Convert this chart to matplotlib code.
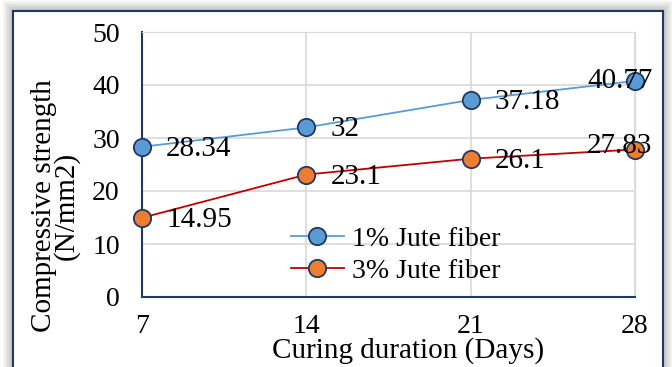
import matplotlib.pyplot as plt
from matplotlib.patches import Rectangle

days = [7, 14, 21, 28]
jute1 = [28.34, 32, 37.18, 40.77]
jute3 = [14.95, 23.1, 26.1, 27.83]
labels1 = ["28.34", "32", "37.18", "40.77"]
labels3 = ["14.95", "23.1", "26.1", "27.83"]

plt.rcParams['font.family'] = ['Liberation Serif', 'DejaVu Serif']

fig = plt.figure(figsize=(6.72, 3.67), dpi=100)
W, H = 672, 367

# shadow + border of the chart box
for i, c in enumerate(['#f4f4f4', '#e8e8e8', '#dcdcdc', '#d0d0d0', '#c4c4c4']):
    d = 10 - i * 2
    fig.add_artist(Rectangle(((13 - d) / W, 0), (650 + 2 * d) / W, (356 + d) / H,
                             transform=fig.transFigure, facecolor=c, edgecolor='none', zorder=-2))
fig.add_artist(Rectangle((13 / W, -0.01), 650 / W, (356 + 3.7) / H, transform=fig.transFigure,
                         facecolor='white', edgecolor='#203864', lw=1.5, zorder=-1))

ax = fig.add_axes([142 / W, 70 / H, 493 / W, 265 / H])
ax.set_zorder(2)
ax.set_facecolor('none')
navy = '#203864'

ax.plot(days, jute1, color='#5b9bd5', lw=1.3, marker='o', ms=12.5,
        mfc='#5b9bd5', mec=navy, mew=1.3, label='1% Jute fiber', zorder=3, clip_on=False)
ax.plot(days, jute3, color='#c00000', lw=1.3, marker='o', ms=12.5,
        mfc='#ed7d31', mec=navy, mew=1.3, label='3% Jute fiber', zorder=3, clip_on=False)

for i, (x, y) in enumerate(zip(days, jute1)):
    off = (-48, 0) if i == 3 else (24, -2)
    ax.annotate(labels1[i], (x, y), xytext=off, textcoords='offset pixels',
                ha='left', va='center', fontsize=21, zorder=4)
for i, (x, y) in enumerate(zip(days, jute3)):
    off = (-48, 4) if i == 3 else (24, -2)
    ax.annotate(labels3[i], (x, y), xytext=off, textcoords='offset pixels',
                ha='left', va='center', fontsize=21, zorder=4)

ax.set_xlim(7, 28)
ax.set_ylim(0, 50)
ax.set_xticks(days)
ax.set_yticks(range(0, 51, 10))
ax.tick_params(length=0, labelsize=20)
ax.tick_params(axis='x', pad=12)
ax.tick_params(axis='y', pad=16)
ax.grid(True, color='#d9d9d9', lw=1.2)
ax.set_axisbelow(True)
for s in ['top', 'right']:
    ax.spines[s].set_color('#d9d9d9')
for s in ['left', 'bottom']:
    ax.spines[s].set_color(navy)
    ax.spines[s].set_linewidth(1.5)

fig.text(408 / W, 1 - 351 / H, 'Curing duration (Days)', ha='center', va='center', fontsize=21)
fig.text(55 / W, 1 - 206 / H, 'Compressive strength\n(N/mm2)', ha='center', va='center',
         rotation=90, fontsize=21, linespacing=0.8)

ax.legend(loc='center left', bbox_to_anchor=(277 / W, 1 - 255 / H), bbox_transform=fig.transFigure,
          frameon=False, fontsize=20, handlelength=1.9, handletextpad=0.3, labelspacing=0.25,
          borderpad=0)

fig.savefig('out.png', dpi=100)
